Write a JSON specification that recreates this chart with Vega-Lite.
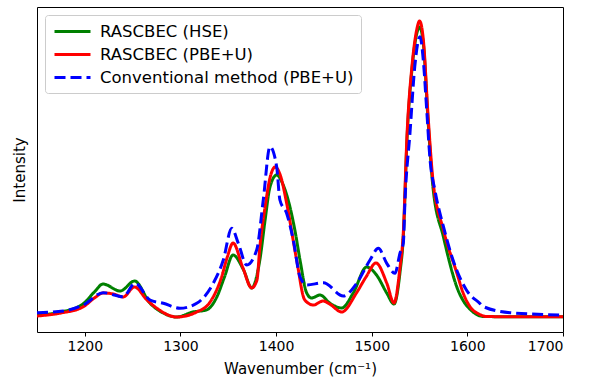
{
  "$schema": "https://vega.github.io/schema/vega-lite/v6.json",
  "width": 526,
  "height": 325,
  "autosize": {"type": "none"},
  "padding": {"left": 37, "top": 7, "right": 33, "bottom": 47},
  "background": "white",
  "config": {
    "font": "DejaVu Sans",
    "view": {"stroke": "black", "strokeWidth": 1},
    "legend": {
      "title": null,
      "orient": "none",
      "legendX": 8,
      "legendY": 8,
      "symbolType": "M-2.25,0H2.25",
      "symbolStrokeWidth": 3,
      "symbolSize": 256,
      "symbolOffset": 11,
      "labelOffset": 18,
      "labelFontSize": 16.5,
      "labelColor": "black",
      "labelLimit": 0,
      "rowPadding": 5,
      "padding": 7,
      "strokeColor": "#cccccc",
      "fillColor": "white",
      "cornerRadius": 3
    }
  },
  "datasets": {
    "spectra": [
      {"series": "RASCBEC (HSE)", "wn": 1150, "v": 17},
      {"series": "RASCBEC (HSE)", "wn": 1175, "v": 20},
      {"series": "RASCBEC (HSE)", "wn": 1198, "v": 28},
      {"series": "RASCBEC (HSE)", "wn": 1210, "v": 40},
      {"series": "RASCBEC (HSE)", "wn": 1219, "v": 48},
      {"series": "RASCBEC (HSE)", "wn": 1237, "v": 41},
      {"series": "RASCBEC (HSE)", "wn": 1252, "v": 51},
      {"series": "RASCBEC (HSE)", "wn": 1268, "v": 29},
      {"series": "RASCBEC (HSE)", "wn": 1282, "v": 19},
      {"series": "RASCBEC (HSE)", "wn": 1296, "v": 15},
      {"series": "RASCBEC (HSE)", "wn": 1313, "v": 20},
      {"series": "RASCBEC (HSE)", "wn": 1327, "v": 22},
      {"series": "RASCBEC (HSE)", "wn": 1338, "v": 35},
      {"series": "RASCBEC (HSE)", "wn": 1346, "v": 55},
      {"series": "RASCBEC (HSE)", "wn": 1355, "v": 77},
      {"series": "RASCBEC (HSE)", "wn": 1366, "v": 62},
      {"series": "RASCBEC (HSE)", "wn": 1374.5, "v": 44},
      {"series": "RASCBEC (HSE)", "wn": 1383, "v": 72},
      {"series": "RASCBEC (HSE)", "wn": 1388.5, "v": 112},
      {"series": "RASCBEC (HSE)", "wn": 1393.6, "v": 145},
      {"series": "RASCBEC (HSE)", "wn": 1400.6, "v": 157},
      {"series": "RASCBEC (HSE)", "wn": 1407, "v": 148},
      {"series": "RASCBEC (HSE)", "wn": 1414.5, "v": 125},
      {"series": "RASCBEC (HSE)", "wn": 1420, "v": 100},
      {"series": "RASCBEC (HSE)", "wn": 1425, "v": 72},
      {"series": "RASCBEC (HSE)", "wn": 1432, "v": 39},
      {"series": "RASCBEC (HSE)", "wn": 1437, "v": 34},
      {"series": "RASCBEC (HSE)", "wn": 1446, "v": 37},
      {"series": "RASCBEC (HSE)", "wn": 1456, "v": 29},
      {"series": "RASCBEC (HSE)", "wn": 1468.6, "v": 24},
      {"series": "RASCBEC (HSE)", "wn": 1480.7, "v": 39},
      {"series": "RASCBEC (HSE)", "wn": 1494.7, "v": 65},
      {"series": "RASCBEC (HSE)", "wn": 1505, "v": 57},
      {"series": "RASCBEC (HSE)", "wn": 1515.7, "v": 39},
      {"series": "RASCBEC (HSE)", "wn": 1523.3, "v": 28},
      {"series": "RASCBEC (HSE)", "wn": 1529.6, "v": 60},
      {"series": "RASCBEC (HSE)", "wn": 1533, "v": 95},
      {"series": "RASCBEC (HSE)", "wn": 1537, "v": 195},
      {"series": "RASCBEC (HSE)", "wn": 1542, "v": 262},
      {"series": "RASCBEC (HSE)", "wn": 1547, "v": 298},
      {"series": "RASCBEC (HSE)", "wn": 1550, "v": 305},
      {"series": "RASCBEC (HSE)", "wn": 1554, "v": 288},
      {"series": "RASCBEC (HSE)", "wn": 1559, "v": 210},
      {"series": "RASCBEC (HSE)", "wn": 1564, "v": 145},
      {"series": "RASCBEC (HSE)", "wn": 1575, "v": 95},
      {"series": "RASCBEC (HSE)", "wn": 1589, "v": 45},
      {"series": "RASCBEC (HSE)", "wn": 1606, "v": 20},
      {"series": "RASCBEC (HSE)", "wn": 1617, "v": 15.5},
      {"series": "RASCBEC (HSE)", "wn": 1640, "v": 15.3},
      {"series": "RASCBEC (HSE)", "wn": 1700, "v": 15.3},

      {"series": "RASCBEC (PBE+U)", "wn": 1150, "v": 16},
      {"series": "RASCBEC (PBE+U)", "wn": 1175, "v": 19},
      {"series": "RASCBEC (PBE+U)", "wn": 1198, "v": 25},
      {"series": "RASCBEC (PBE+U)", "wn": 1210, "v": 34},
      {"series": "RASCBEC (PBE+U)", "wn": 1219, "v": 39},
      {"series": "RASCBEC (PBE+U)", "wn": 1230, "v": 38},
      {"series": "RASCBEC (PBE+U)", "wn": 1240, "v": 35},
      {"series": "RASCBEC (PBE+U)", "wn": 1252, "v": 45},
      {"series": "RASCBEC (PBE+U)", "wn": 1265, "v": 32},
      {"series": "RASCBEC (PBE+U)", "wn": 1275, "v": 24},
      {"series": "RASCBEC (PBE+U)", "wn": 1296, "v": 15},
      {"series": "RASCBEC (PBE+U)", "wn": 1317, "v": 20},
      {"series": "RASCBEC (PBE+U)", "wn": 1331, "v": 30},
      {"series": "RASCBEC (PBE+U)", "wn": 1343, "v": 55},
      {"series": "RASCBEC (PBE+U)", "wn": 1349, "v": 75},
      {"series": "RASCBEC (PBE+U)", "wn": 1355, "v": 89},
      {"series": "RASCBEC (PBE+U)", "wn": 1365, "v": 65},
      {"series": "RASCBEC (PBE+U)", "wn": 1374.5, "v": 44},
      {"series": "RASCBEC (PBE+U)", "wn": 1380, "v": 52},
      {"series": "RASCBEC (PBE+U)", "wn": 1383, "v": 85},
      {"series": "RASCBEC (PBE+U)", "wn": 1388.5, "v": 125},
      {"series": "RASCBEC (PBE+U)", "wn": 1393.6, "v": 154},
      {"series": "RASCBEC (PBE+U)", "wn": 1399, "v": 165},
      {"series": "RASCBEC (PBE+U)", "wn": 1405, "v": 155},
      {"series": "RASCBEC (PBE+U)", "wn": 1411, "v": 129},
      {"series": "RASCBEC (PBE+U)", "wn": 1421.5, "v": 72},
      {"series": "RASCBEC (PBE+U)", "wn": 1430, "v": 32},
      {"series": "RASCBEC (PBE+U)", "wn": 1439, "v": 27},
      {"series": "RASCBEC (PBE+U)", "wn": 1449, "v": 31},
      {"series": "RASCBEC (PBE+U)", "wn": 1456, "v": 28},
      {"series": "RASCBEC (PBE+U)", "wn": 1468.6, "v": 20},
      {"series": "RASCBEC (PBE+U)", "wn": 1484, "v": 39},
      {"series": "RASCBEC (PBE+U)", "wn": 1494, "v": 55},
      {"series": "RASCBEC (PBE+U)", "wn": 1504.5, "v": 69},
      {"series": "RASCBEC (PBE+U)", "wn": 1515.7, "v": 49},
      {"series": "RASCBEC (PBE+U)", "wn": 1523.3, "v": 29},
      {"series": "RASCBEC (PBE+U)", "wn": 1529.6, "v": 65},
      {"series": "RASCBEC (PBE+U)", "wn": 1533, "v": 99},
      {"series": "RASCBEC (PBE+U)", "wn": 1537, "v": 199},
      {"series": "RASCBEC (PBE+U)", "wn": 1542, "v": 265},
      {"series": "RASCBEC (PBE+U)", "wn": 1547, "v": 302},
      {"series": "RASCBEC (PBE+U)", "wn": 1550, "v": 311},
      {"series": "RASCBEC (PBE+U)", "wn": 1554, "v": 292},
      {"series": "RASCBEC (PBE+U)", "wn": 1559, "v": 215},
      {"series": "RASCBEC (PBE+U)", "wn": 1564, "v": 152},
      {"series": "RASCBEC (PBE+U)", "wn": 1575, "v": 102},
      {"series": "RASCBEC (PBE+U)", "wn": 1589, "v": 59},
      {"series": "RASCBEC (PBE+U)", "wn": 1596, "v": 38},
      {"series": "RASCBEC (PBE+U)", "wn": 1603, "v": 25},
      {"series": "RASCBEC (PBE+U)", "wn": 1612, "v": 18},
      {"series": "RASCBEC (PBE+U)", "wn": 1620, "v": 15.5},
      {"series": "RASCBEC (PBE+U)", "wn": 1640, "v": 15.3},
      {"series": "RASCBEC (PBE+U)", "wn": 1700, "v": 15.3},

      {"series": "Conventional method (PBE+U)", "wn": 1150, "v": 19.3},
      {"series": "Conventional method (PBE+U)", "wn": 1177.5, "v": 21},
      {"series": "Conventional method (PBE+U)", "wn": 1198.4, "v": 27},
      {"series": "Conventional method (PBE+U)", "wn": 1219.3, "v": 39.3},
      {"series": "Conventional method (PBE+U)", "wn": 1240.2, "v": 35.3},
      {"series": "Conventional method (PBE+U)", "wn": 1252.5, "v": 48.7},
      {"series": "Conventional method (PBE+U)", "wn": 1268.2, "v": 32},
      {"series": "Conventional method (PBE+U)", "wn": 1282.1, "v": 28.7},
      {"series": "Conventional method (PBE+U)", "wn": 1299.5, "v": 23.7},
      {"series": "Conventional method (PBE+U)", "wn": 1317, "v": 28.7},
      {"series": "Conventional method (PBE+U)", "wn": 1334.3, "v": 48.7},
      {"series": "Conventional method (PBE+U)", "wn": 1344.8, "v": 72},
      {"series": "Conventional method (PBE+U)", "wn": 1353.6, "v": 103.7},
      {"series": "Conventional method (PBE+U)", "wn": 1360.5, "v": 88.7},
      {"series": "Conventional method (PBE+U)", "wn": 1369.3, "v": 67},
      {"series": "Conventional method (PBE+U)", "wn": 1379.7, "v": 82},
      {"series": "Conventional method (PBE+U)", "wn": 1386.6, "v": 132},
      {"series": "Conventional method (PBE+U)", "wn": 1393.6, "v": 185.3},
      {"series": "Conventional method (PBE+U)", "wn": 1400.6, "v": 165.3},
      {"series": "Conventional method (PBE+U)", "wn": 1404, "v": 132},
      {"series": "Conventional method (PBE+U)", "wn": 1411, "v": 118.7},
      {"series": "Conventional method (PBE+U)", "wn": 1418, "v": 92},
      {"series": "Conventional method (PBE+U)", "wn": 1425, "v": 55.3},
      {"series": "Conventional method (PBE+U)", "wn": 1432, "v": 47},
      {"series": "Conventional method (PBE+U)", "wn": 1449.4, "v": 49.3},
      {"series": "Conventional method (PBE+U)", "wn": 1470.3, "v": 36},
      {"series": "Conventional method (PBE+U)", "wn": 1484.3, "v": 48.7},
      {"series": "Conventional method (PBE+U)", "wn": 1498.2, "v": 72},
      {"series": "Conventional method (PBE+U)", "wn": 1506.9, "v": 83.7},
      {"series": "Conventional method (PBE+U)", "wn": 1515.7, "v": 68.7},
      {"series": "Conventional method (PBE+U)", "wn": 1524.3, "v": 58.7},
      {"series": "Conventional method (PBE+U)", "wn": 1529.6, "v": 79},
      {"series": "Conventional method (PBE+U)", "wn": 1533, "v": 88.7},
      {"series": "Conventional method (PBE+U)", "wn": 1534.8, "v": 132},
      {"series": "Conventional method (PBE+U)", "wn": 1540, "v": 199},
      {"series": "Conventional method (PBE+U)", "wn": 1545, "v": 265.3},
      {"series": "Conventional method (PBE+U)", "wn": 1550.5, "v": 295.3},
      {"series": "Conventional method (PBE+U)", "wn": 1553.9, "v": 272},
      {"series": "Conventional method (PBE+U)", "wn": 1557.5, "v": 222},
      {"series": "Conventional method (PBE+U)", "wn": 1561, "v": 172},
      {"series": "Conventional method (PBE+U)", "wn": 1566, "v": 142},
      {"series": "Conventional method (PBE+U)", "wn": 1575, "v": 105.3},
      {"series": "Conventional method (PBE+U)", "wn": 1585, "v": 72},
      {"series": "Conventional method (PBE+U)", "wn": 1599, "v": 42},
      {"series": "Conventional method (PBE+U)", "wn": 1613, "v": 28.7},
      {"series": "Conventional method (PBE+U)", "wn": 1617, "v": 25.3},
      {"series": "Conventional method (PBE+U)", "wn": 1645, "v": 19.3},
      {"series": "Conventional method (PBE+U)", "wn": 1700, "v": 17}
    ]
  },
  "data": {"name": "spectra"},
  "mark": {"type": "line", "interpolate": "monotone", "strokeWidth": 3, "clip": true},
  "encoding": {
    "x": {
      "field": "wn",
      "type": "quantitative",
      "scale": {"domain": [1150, 1700], "nice": false, "zero": false},
      "axis": {
        "title": "Wavenumber (cm⁻¹)",
        "values": [1200, 1300, 1400, 1500, 1600, 1700],
        "format": "d",
        "grid": false,
        "domain": false,
        "tickColor": "black",
        "tickSize": 4,
        "labelFontSize": 14,
        "labelColor": "black",
        "labelPadding": 3,
        "titleFontSize": 15,
        "titleFontWeight": "normal",
        "titleColor": "black",
        "titlePadding": 8
      }
    },
    "y": {
      "field": "v",
      "type": "quantitative",
      "scale": {"domain": [0, 325], "nice": false},
      "axis": {
        "title": "Intensity",
        "labels": false,
        "ticks": false,
        "grid": false,
        "domain": false,
        "titleFontSize": 15,
        "titleFontWeight": "normal",
        "titleColor": "black",
        "titlePadding": 10
      }
    },
    "color": {
      "field": "series",
      "type": "nominal",
      "sort": null,
      "scale": {
        "domain": ["RASCBEC (HSE)", "RASCBEC (PBE+U)", "Conventional method (PBE+U)"],
        "range": ["#008000", "#ff0000", "#0000ff"]
      }
    },
    "strokeDash": {
      "field": "series",
      "type": "nominal",
      "sort": null,
      "scale": {
        "domain": ["RASCBEC (HSE)", "RASCBEC (PBE+U)", "Conventional method (PBE+U)"],
        "range": [[1, 0], [1, 0], [11, 5]]
      }
    }
  }
}
